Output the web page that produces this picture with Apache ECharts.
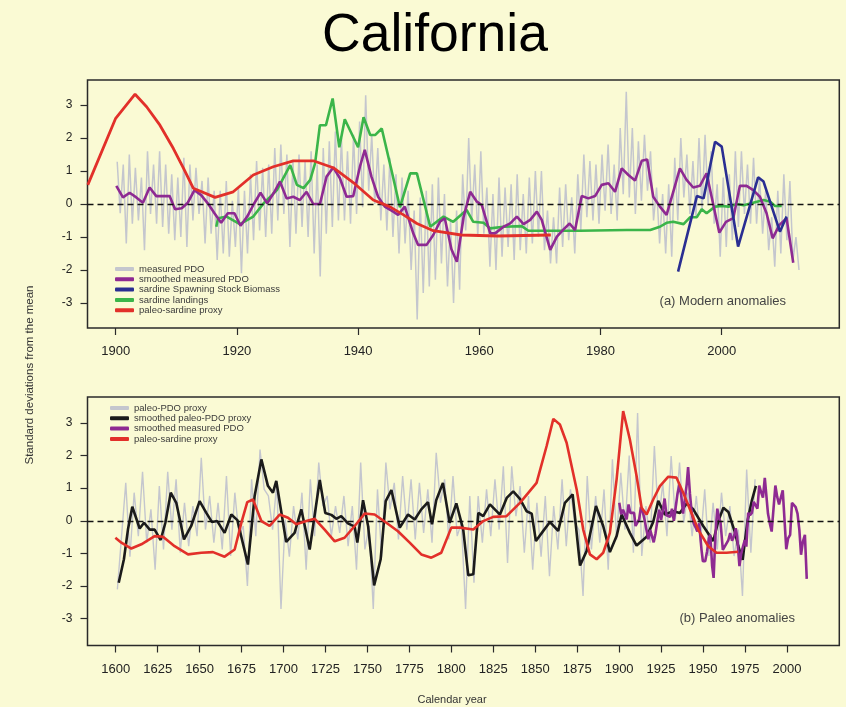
<!DOCTYPE html>
<html>
<head>
<meta charset="utf-8">
<script src="https://cdn.jsdelivr.net/npm/echarts@6/dist/echarts.min.js"></script>
<style>
  html, body { margin: 0; padding: 0; background: #FAFAD4; }
  #chart { width: 846px; height: 707px; }
</style>
</head>
<body>
<div id="chart"></div>
<script>
// ---------- (a) Modern anomalies ----------
// Measured PDO: two readings per year (high / low), starting 1900.25, every half year
const measuredPdoStart = 1900.25;
const measuredPdoStep = 0.5;
const measuredPdo = [
  1.28,-0.28, 1.2,-1.2, 1.5,-0.6, 1.1,-0.5, 0.8,-1.4, 1.6,-0.3, 1.2,-0.6, 1.6,-0.7, 1.2,-0.9, 0.9,-1.1,
  0.8,-1.0, 1.4,-1.3, 1.2,-0.5, 1.1,-0.3, 0.7,-1.2, 0.8,-0.9, 0.4,-1.7, 0.4,-1.5, 0.7,-1.6, 0.1,-1.3,
  0.5,-2.1, 0.4,-1.5, 0.9,-1.1, 1.3,-0.8, 1.1,-1.0, 1.2,-0.9, 1.7,-0.5, 1.8,-0.3, 1.5,-1.3, 1.3,-0.9,
  1.5,-0.7, 1.3,-1.0, 1.6,-1.5, 1.2,-2.2, 1.7,-0.9, 1.9,-0.7, 2.2,-0.5, 2.0,-0.5, 1.6,-0.6, 2.1,-0.3,
  2.5,-0.1, 3.3,0.4, 2.1,0.0, 1.7,-0.5, 1.2,-0.8, 1.4,-1.0, 0.9,-1.5, 0.8,-1.2, 0.4,-2.0, -0.2,-3.5,
  0.2,-2.7, 0.4,-2.5, 0.6,-2.3, 0.8,-1.8, 0.3,-2.5, -0.5,-3.0, -0.2,-2.6, 0.9,-0.8, 2.0,-0.5, 1.2,-1.0,
  1.6,-0.9, 0.5,-1.9, 0.3,-2.0, 0.8,-1.6, 0.5,-1.3, 0.6,-1.7, 0.9,-1.4, 0.3,-1.5, 0.8,-1.2, 1.0,-1.0,
  1.0,-1.4, -0.2,-1.8, -0.4,-1.8, 0.5,-1.3, 0.6,-1.1, 0.2,-1.5, 0.9,-0.8, 1.5,-0.4, 1.3,-0.5, 1.2,-0.6,
  1.5,-0.2, 1.8,-0.3, 1.2,-0.5, 2.3,0.3, 3.4,0.2, 2.3,-0.3, 1.9,0.1, 2.1,0.4, 1.6,-0.5, 0.5,-1.2,
  0.3,-1.5, 0.6,-1.6, 1.4,-0.5, 2.0,0.2, 1.5,-0.3, 1.3,-0.4, 2.0,-0.2, 2.1,0.0, 1.6,-0.6, 0.6,-1.6,
  0.8,-1.3, 0.9,-1.1, 1.6,-0.7, 1.6,-0.3, 1.2,-0.6, 1.4,-0.6, 0.8,-0.9, 0.4,-1.4, -0.4,-1.9, 0.4,-1.5,
  0.9,-1.1, 0.7,-1.7, -1.0,-2.0
];

// Smoothed measured PDO
const smoothPdoYears = [
  1900.1,1901.2,1902.3,1903.4,1904.5,1905.6,1906.7,1907.8,1908.9,1909.8,1910.9,1911.9,1913.0,1914.1,1915.2,
  1916.3,1917.4,1918.5,1919.6,1920.6,1921.7,1922.8,1923.9,1925.0,1926.1,1927.1,1928.2,1929.3,1930.4,1931.5,
  1932.6,1933.7,1934.8,1935.9,1937.0,1938.1,1939.2,1940.3,1941.1,1942.2,1943.3,1944.4,1945.8,1946.6,1947.7,
  1949.1,1949.9,1951.3,1952.4,1953.5,1954.3,1955.4,1956.3,1957.4,1958.5,1959.6,1960.4,1961.8,1962.6,1964.0,
  1965.1,1966.2,1967.3,1968.4,1969.5,1970.3,1971.7,1972.8,1973.9,1974.9,1975.8,1976.9,1978.0,1979.1,1980.2,
  1981.3,1982.4,1983.5,1984.6,1985.7,1986.8,1987.7,1988.7,1989.8,1990.9,1992.0,1993.1,1994.2,1995.3,1996.4,
  1997.5,1999.6,2000.7,2001.9,2003.0,2004.1,2005.2,2006.3,2007.4,2008.4,2009.5,2010.7,2011.8
];
const smoothPdoVals = [
  0.55,0.20,0.34,0.20,0.04,0.50,0.24,0.24,0.24,-0.16,-0.13,0.04,0.42,0.27,0.02,
  -0.28,-0.57,-0.28,-0.28,-0.66,-0.38,0.00,0.34,0.02,0.34,0.68,0.17,0.22,0.12,0.37,
  0.00,0.00,0.83,1.11,0.78,0.22,0.24,1.13,1.64,0.83,0.22,-0.08,-0.23,-0.33,-0.08,
  -0.89,-1.24,-1.24,-0.94,-0.54,-0.43,-1.37,-1.75,-0.40,0.37,0.07,-0.03,-0.89,-0.89,-0.69,
  -0.59,-0.38,-0.61,-0.48,-0.23,-0.48,-1.39,-0.99,-0.77,-0.59,-0.79,0.24,0.17,0.24,0.58,
  0.63,0.37,1.08,0.88,0.71,1.31,1.35,0.22,-0.08,-0.33,0.37,1.08,0.73,0.50,0.55,
  0.93,-0.87,-0.54,-0.43,0.55,0.55,0.42,0.22,-0.28,-1.04,-0.64,-0.43,-1.78
];

// Sardine spawning stock biomass
const ssbYears = [1992.8,1995.9,1997.0,1998.9,2000.0,2002.7,2006.0,2006.9,2009.6,2010.7];
const ssbVals  = [-2.05,0.24,0.17,1.89,1.74,-1.29,0.81,0.68,-0.84,-0.38];

// Sardine landings
const landingYears = [
  1916.6,1916.9,1918.3,1920.5,1922.7,1924.4,1926.6,1928.8,1929.9,1931.0,1932.1,1932.9,1933.7,1934.7,1935.8,
  1936.9,1937.8,1940.0,1940.9,1942.0,1942.8,1943.9,1945.5,1946.9,1948.6,1949.7,1951.9,1954.1,1955.7,1957.9,
  1959.0,1960.7,1961.8,1964.0,1967.0,1968.1,1976.6,1984.3,1988.2,1989.8,1990.9,1992.0,1993.7,1994.8,1995.9,
  1996.7,1997.5,1998.9,2000.0,2001.1,2002.5,2003.6,2005.2,2006.9,2008.0,2008.8,2009.9
];
const landingVals = [
  -0.69,-0.43,-0.38,-0.61,-0.38,0.02,0.42,1.18,0.58,0.48,0.73,1.23,2.39,2.39,3.20,
  1.72,2.57,1.72,2.63,2.09,2.09,2.29,1.03,-0.10,0.93,0.93,-0.69,-0.38,-0.54,-0.18,
  -0.54,-0.57,-0.74,-0.69,-0.67,-0.81,-0.81,-0.79,-0.79,-0.69,-0.57,-0.54,-0.61,-0.40,-0.40,
  -0.16,-0.28,-0.08,-0.06,-0.08,0.00,-0.04,0.04,0.12,0.07,-0.06,-0.06
];

// Paleo-sardine proxy, modern period
const sardineModernYears = [
  1895.4,1900.0,1903.2,1905.1,1907.3,1909.5,1911.2,1912.8,1916.4,1919.4,1922.7,1926.0,1929.3,1932.6,1935.9,
  1939.2,1942.5,1945.2,1947.5,1949.7,1952.4,1957.0,1963.0,1971.8
];
const sardineModernVals = [
  0.58,2.60,3.33,2.95,2.39,1.69,1.08,0.48,0.20,0.37,0.88,1.13,1.31,1.31,1.10,
  0.65,0.12,-0.08,-0.33,-0.59,-0.81,-0.94,-0.97,-0.94
];

// ---------- (b) Paleo anomalies ----------
// Paleo-PDO proxy: readings every 2.5 years from 1601
const paleoPdoStart = 1601;
const paleoPdoStep = 2.5;
const paleoPdo = [
  -2.1,-0.47, 1.16,-1.1, 0.86,-0.47, 1.5,-0.67, 0.35,-1.5, 1.06,-0.88, 1.5,-0.27, 1.27,-0.98,
  0.55,-0.78, 0.45,-0.47, 1.93,-0.27, 0.76,-0.67, 0.55,-0.88, 1.37,-1.08, 0.86,-0.47, -0.16,-2.0,
  1.27,-0.47, 2.18,0.96, 0.76,-0.27, 1.16,-2.7, 0.04,-1.1, 0.45,-0.57, 0.86,-1.5, 1.27,-0.47,
  1.78,0.45, 0.76,-0.47, 0.45,-0.37, 0.76,-0.78, 0.45,-1.5, 1.78,-0.88, -0.16,-2.7, 0.96,-1.1,
  1.78,0.35, 1.16,-0.57, 1.37,-0.27, 1.27,-0.57, 1.16,-0.37, 0.96,-0.67, 2.08,0.55, 1.27,-0.57,
  1.37,-0.47, -0.06,-2.7, 0.76,-1.9, 0.76,-0.67, 0.96,-0.47, 1.27,-0.27, 1.67,-1.29, 1.67,0.14,
  1.06,-0.98, 0.76,-1.5, 0.55,-1.1, 0.76,-1.7, 0.45,-0.88, 1.27,-0.78, 0.96,-0.06, -0.27,-2.3,
  1.37,-0.88, 0.76,-0.67, 0.96,-1.5, 1.88,-0.57, 1.47,-0.27, 2.0,-0.98, 3.3,-1.08, 0.45,-0.67,
  2.29,-0.06, 1.16,-0.47, 1.98,0.04, 1.78,-0.06, 0.86,-0.47, 0.76,-0.67, 0.96,-1.08, 0.55,-0.88,
  0.86,-0.47, 0.45,-1.08, -0.27,-2.3, 1.57,-0.98, 1.27
];

// Smoothed paleo-PDO proxy
const smoothPaleoYears = [
  1601.8,1604.9,1607.3,1609.9,1614.3,1616.9,1620.3,1623.2,1626.8,1629.6,1632.8,1636.1,1640.7,1645.0,1650.0,
  1654.0,1657.4,1660.5,1664.9,1668.9,1672.5,1678.8,1682.8,1686.8,1690.7,1693.7,1695.7,1701.6,1706.6,1710.6,
  1715.6,1721.6,1724.9,1728.5,1731.5,1734.4,1738.4,1742.4,1744.0,1747.4,1750.4,1754.0,1757.9,1760.9,1764.3,
  1769.3,1774.2,1778.2,1782.1,1786.1,1788.5,1791.0,1795.0,1799.0,1803.0,1807.1,1810.1,1813.1,1816.1,1819.0,
  1823.0,1829.0,1833.0,1836.9,1840.9,1844.9,1847.9,1850.4,1854.8,1858.8,1863.7,1867.7,1872.3,1876.7,1880.6,
  1886.2,1890.5,1894.5,1898.5,1901.5,1906.4,1910.4,1916.4,1920.3,1923.3,1927.3,1932.2,1936.2,1940.2,1944.2,
  1950.1,1956.1,1959.1,1962.1,1965.1,1969.1,1971.0,1973.6,1976.5,1979.0,1981.5
];
const smoothPaleoVals = [
  -1.90,-1.18,-0.27,0.43,-0.24,-0.06,-0.27,-0.27,-0.59,-0.06,0.86,0.55,-0.57,-0.16,0.60,
  0.24,-0.04,-0.01,-0.37,0.19,0.02,-1.34,0.76,1.88,1.07,0.86,1.22,-0.65,-0.37,0.35,
  -0.88,1.25,0.24,0.18,0.06,0.14,-0.08,-0.18,-0.67,0.63,-0.16,-1.98,-1.18,0.60,0.94,
  -0.21,0.19,0.04,0.35,0.57,-0.11,0.63,1.16,-0.06,0.53,-0.27,-1.67,-1.64,0.24,0.14,
  0.50,0.19,0.70,0.90,0.67,0.29,0.22,-0.62,-0.31,-0.04,-0.31,0.55,0.81,-1.37,-0.93,
  0.45,-0.16,-0.96,-0.47,0.19,-0.37,-0.76,-0.49,-0.04,0.61,0.19,0.29,0.24,0.53,0.35,
  -0.16,-0.62,-0.01,0.40,0.27,-0.37,-0.78,-1.20,0.00,0.60,1.07
];

// Paleo-sardine proxy, long record
const sardinePaleoYears = [
  1599.8,1603.4,1609.3,1615.3,1623.2,1628.2,1635.1,1643.1,1651.0,1658.0,1664.9,1670.9,1674.9,1678.4,1681.8,
  1686.8,1691.7,1697.7,1702.7,1707.6,1713.6,1718.6,1724.5,1730.5,1736.4,1742.4,1748.4,1754.3,1761.3,1768.2,
  1775.2,1782.1,1788.1,1794.0,1800.0,1805.2,1813.1,1819.0,1825.0,1832.9,1840.9,1850.8,1856.8,1860.8,1864.7,
  1868.7,1874.7,1878.6,1882.6,1886.6,1890.5,1894.5,1898.5,1902.4,1906.4,1910.4,1913.4,1916.4,1920.3,1924.3,
  1929.3,1934.2,1938.2,1942.2,1947.1,1953.1,1958.0,1964.0,1970.9
];
const sardinePaleoVals = [
  -0.52,-0.67,-0.85,-0.72,-0.47,-0.49,-0.78,-1.03,-0.98,-0.96,-1.10,-0.88,-0.06,0.57,0.65,
  -0.01,-0.16,0.19,0.09,-0.11,-0.01,0.06,-0.27,-0.63,-0.52,-0.16,0.22,0.19,-0.06,-0.32,
  -0.67,-1.03,-1.13,-0.98,-0.21,-0.21,-0.27,-0.01,0.12,0.14,0.55,1.16,2.29,3.12,2.95,
  2.39,0.96,-0.27,-1.03,-1.18,-0.98,-0.37,1.27,3.36,2.49,1.37,0.40,0.19,0.65,1.06,
  1.35,1.32,0.86,0.35,-0.27,-0.78,-0.98,-0.98,-0.95
];

const modernTicks = [1900, 1920, 1940, 1960, 1980, 2000];
const paleoTicks = [1600, 1625, 1650, 1675, 1700, 1725, 1750, 1775, 1800, 1825, 1850, 1875, 1900, 1925, 1950, 1975, 2000];
const sdTicks = [-3, -2, -1, 0, 1, 2, 3];

// ---------- helpers ----------
const FONT = '"Liberation Sans", Arial, Helvetica, sans-serif';
const zip = (xs, ys) => xs.map((x, i) => [x, ys[i]]);
const stepped = (start, step, ys) => ys.map((y, i) => [start + i * step, y]);

const C = {
  gray: '#c4c6ce', purple: '#8e2a92', blue: '#2a2e92', green: '#3bb54a',
  red: '#e2302a', black: '#1b1b1b', frame: '#2a2a2a'
};

function xAxisFor(gridIndex, min, max, ticks) {
  return {
    type: 'value', gridIndex, min, max,
    axisLine: { show: false, onZero: false },
    splitLine: { show: false },
    axisTick: { show: true, length: 7, customValues: ticks, lineStyle: { color: C.frame, width: 1.2 } },
    axisLabel: { customValues: ticks, formatter: v => String(v), margin: 17,
      color: '#222', fontSize: 13, fontFamily: FONT }
  };
}
function yAxisFor(gridIndex, min, max) {
  return {
    type: 'value', gridIndex, min, max,
    axisLine: { show: false, onZero: false },
    splitLine: { show: false },
    axisTick: { show: true, length: 7, customValues: sdTicks, lineStyle: { color: C.frame, width: 1.2 } },
    axisLabel: { customValues: sdTicks, formatter: v => String(v), margin: 15,
      color: '#222', fontSize: 12, fontFamily: FONT }
  };
}
function line(name, idx, data, color, width, z) {
  return {
    name, type: 'line', xAxisIndex: idx, yAxisIndex: idx, data,
    showSymbol: false, symbol: 'none', smooth: false, z,
    lineStyle: { color, width }, itemStyle: { color },
    emphasis: { disabled: true }, animation: false
  };
}
const zeroLine = {
  silent: true, symbol: 'none', label: { show: false },
  lineStyle: { color: '#111', type: [6, 4], width: 1.3 },
  data: [{ yAxis: 0 }]
};

const legendText = { color: '#3a3a3a', fontSize: 9.5, fontFamily: FONT, lineHeight: 10 };

const seriesA = [
  line('measured PDO', 0, stepped(measuredPdoStart, measuredPdoStep, measuredPdo), C.gray, 1.5, 1),
  Object.assign(line('smoothed measured PDO', 0, zip(smoothPdoYears, smoothPdoVals), C.purple, 2.6, 4), { markLine: zeroLine }),
  line('sardine Spawning Stock Biomass', 0, zip(ssbYears, ssbVals), C.blue, 2.6, 5),
  line('sardine landings', 0, zip(landingYears, landingVals), C.green, 2.6, 3),
  line('paleo-sardine proxy', 0, zip(sardineModernYears, sardineModernVals), C.red, 2.8, 6)
];
const seriesB = [
  line('paleo-PDO proxy', 1, stepped(paleoPdoStart, paleoPdoStep, paleoPdo), C.gray, 1.4, 1),
  Object.assign(line('smoothed paleo-PDO proxy', 1, zip(smoothPaleoYears, smoothPaleoVals), C.black, 2.6, 3), { markLine: zeroLine }),
  line('smoothed measured PDO', 1, zip(smoothPdoYears, smoothPdoVals), C.purple, 2.6, 4),
  line('paleo-sardine proxy', 1, zip(sardinePaleoYears, sardinePaleoVals), C.red, 2.6, 5)
];

const chart = echarts.init(document.getElementById('chart'), null, { renderer: 'canvas' });
chart.setOption({
  backgroundColor: '#FAFAD4',
  animation: false,
  grid: [
    { left: 87.5, top: 80, width: 751.8, height: 248, show: true, borderColor: C.frame, borderWidth: 1.5, backgroundColor: 'transparent' },
    { left: 87.5, top: 397, width: 751.8, height: 248.5, show: true, borderColor: C.frame, borderWidth: 1.5, backgroundColor: 'transparent' }
  ],
  xAxis: [xAxisFor(0, 1895.35, 2019.4, modernTicks), xAxisFor(1, 1583.2, 2031.2, paleoTicks)],
  yAxis: [yAxisFor(0, -3.76, 3.76), yAxisFor(1, -3.82, 3.79)],
  legend: [
    { orient: 'vertical', left: 110, top: 259, itemWidth: 19, itemHeight: 4, itemGap: 0.3, icon: 'roundRect',
      textStyle: legendText, selectedMode: false,
      data: ['measured PDO', 'smoothed measured PDO', 'sardine Spawning Stock Biomass', 'sardine landings', 'paleo-sardine proxy'] },
    { orient: 'vertical', left: 105, top: 398, itemWidth: 19, itemHeight: 4, itemGap: 0.3, icon: 'roundRect',
      textStyle: legendText, selectedMode: false,
      data: ['paleo-PDO proxy', 'smoothed paleo-PDO proxy', 'smoothed measured PDO', 'paleo-sardine proxy'] }
  ],
  graphic: [
    { type: 'text', x: 435, y: 36, silent: true,
      style: { text: 'California', fontSize: 53.5, fontFamily: FONT, fill: '#000', align: 'center', verticalAlign: 'middle' } },
    { type: 'text', x: 30, y: 375, rotation: Math.PI / 2,
      style: { text: 'Standard deviations from the mean', fontSize: 11.5, fontFamily: FONT, fill: '#333', align: 'center', verticalAlign: 'middle' }, silent: true },
    { type: 'text', x: 452, y: 700,
      style: { text: 'Calendar year', fontSize: 11, fontFamily: FONT, fill: '#333', align: 'center', verticalAlign: 'middle' }, silent: true },
    { type: 'text', x: 786, y: 301.5,
      style: { text: '(a) Modern anomalies', fontSize: 13, fontFamily: FONT, fill: '#444', align: 'right', verticalAlign: 'middle' }, silent: true },
    { type: 'text', x: 795, y: 618.5,
      style: { text: '(b) Paleo anomalies', fontSize: 13, fontFamily: FONT, fill: '#444', align: 'right', verticalAlign: 'middle' }, silent: true }
  ],
  series: seriesA.concat(seriesB)
});
</script>
</body>
</html>
